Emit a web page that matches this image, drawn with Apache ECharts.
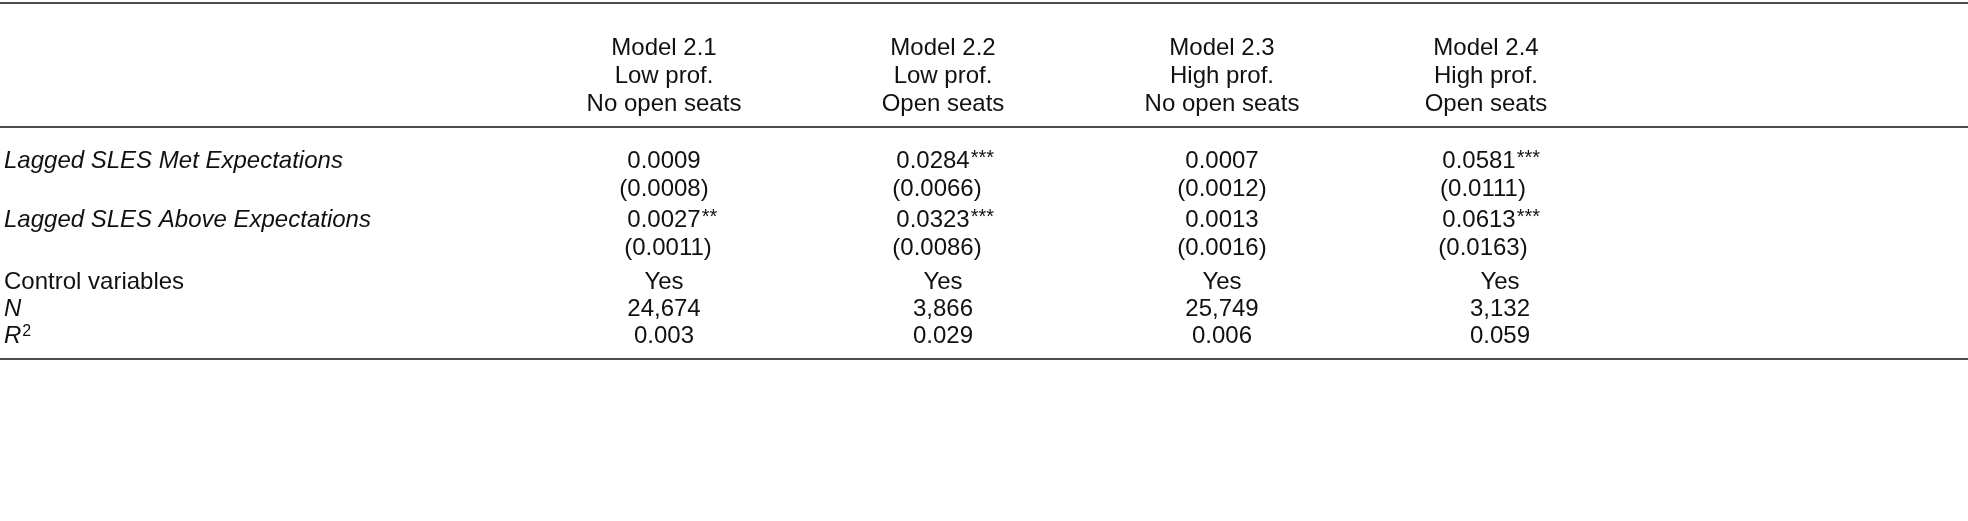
<!DOCTYPE html>
<html>
<head>
<meta charset="utf-8">
<script src="https://cdn.jsdelivr.net/npm/echarts@6/dist/echarts.min.js"></script>
<style>html,body{margin:0;padding:0;background:#fff}#main{width:1968px;height:521px}</style>
</head>
<body>
<div id="main"></div>
<script>
// header rows
const models = ['Model 2.1', 'Model 2.2', 'Model 2.3', 'Model 2.4'];
const profs = ['Low prof.', 'Low prof.', 'High prof.', 'High prof.'];
const seats = ['No open seats', 'Open seats', 'No open seats', 'Open seats'];
// coefficient rows
const coefLabels = ['Lagged SLES Met Expectations', 'Lagged SLES Above Expectations'];
const metCoef = ['0.0009', '0.0284', '0.0007', '0.0581'];
const metStars = ['', '***', '', '***'];
const metSE = ['(0.0008)', '(0.0066)', '(0.0012)', '(0.0111)'];
const aboveCoef = ['0.0027', '0.0323', '0.0013', '0.0613'];
const aboveStars = ['**', '***', '', '***'];
const aboveSE = ['(0.0011)', '(0.0086)', '(0.0016)', '(0.0163)'];
// bottom rows
const controls = ['Yes', 'Yes', 'Yes', 'Yes'];
const nObs = ['24,674', '3,866', '25,749', '3,132'];
const r2 = ['0.003', '0.029', '0.006', '0.059'];

const font = '24px "Liberation Sans", Arial, sans-serif';
const colX = [664, 943, 1222, 1486];
const bodyOff = [0, -10, 0, -7];
const footX = [664, 943, 1222, 1500];

const cv = document.createElement('canvas').getContext('2d');
cv.font = font;
const tw = s => cv.measureText(s).width;

const els = [];
function txt(x, y, s, align, extra) {
  els.push({type: 'text', x: x, y: y, style: Object.assign({
    text: s, fill: '#111', font: font, textAlign: align || 'center', textVerticalAlign: 'middle'
  }, extra || {})});
}
function rule(y) {
  els.push({type: 'line', shape: {x1: 0, y1: y, x2: 1968, y2: y}, style: {stroke: '#111', lineWidth: 1.5}});
}
rule(3); rule(127); rule(359);

models.forEach((m, i) => {
  txt(colX[i], 48, m); txt(colX[i], 76, profs[i]); txt(colX[i], 104, seats[i]);
});

function coefRow(y, label, coef, stars, se) {
  txt(4, y, label, 'left', {font: 'italic ' + font});
  coef.forEach((c, i) => {
    const x = colX[i] + bodyOff[i];
    txt(x, y, c);
    if (stars[i]) txt(x + tw(c) / 2 + 1, y - 3, stars[i], 'left', {font: '20px "Liberation Sans", Arial, sans-serif'});
    txt(x + (stars[i] ? 4 : 0), y + 28, se[i]);
  });
}
coefRow(161, coefLabels[0], metCoef, metStars, metSE);
coefRow(220, coefLabels[1], aboveCoef, aboveStars, aboveSE);

txt(4, 282, 'Control variables', 'left');
txt(4, 309, 'N', 'left', {font: 'italic ' + font});
els.push({type: 'text', x: 4, y: 336, style: {
  text: '{i|R}{s|2}', textVerticalAlign: 'middle', fill: '#111',
  rich: {i: {font: 'italic ' + font, fill: '#111'}, s: {font: '16px "Liberation Sans", Arial, sans-serif', fill: '#111', verticalAlign: 'top', padding: [0, 0, 8, 1]}}
}});
controls.forEach((c, i) => txt(footX[i], 282, c));
nObs.forEach((c, i) => txt(footX[i], 309, c));
r2.forEach((c, i) => txt(footX[i], 336, c));

const chart = echarts.init(document.getElementById('main'));
chart.setOption({graphic: {elements: els}});
window.addEventListener('resize', () => chart.resize());
</script>
</body>
</html>
